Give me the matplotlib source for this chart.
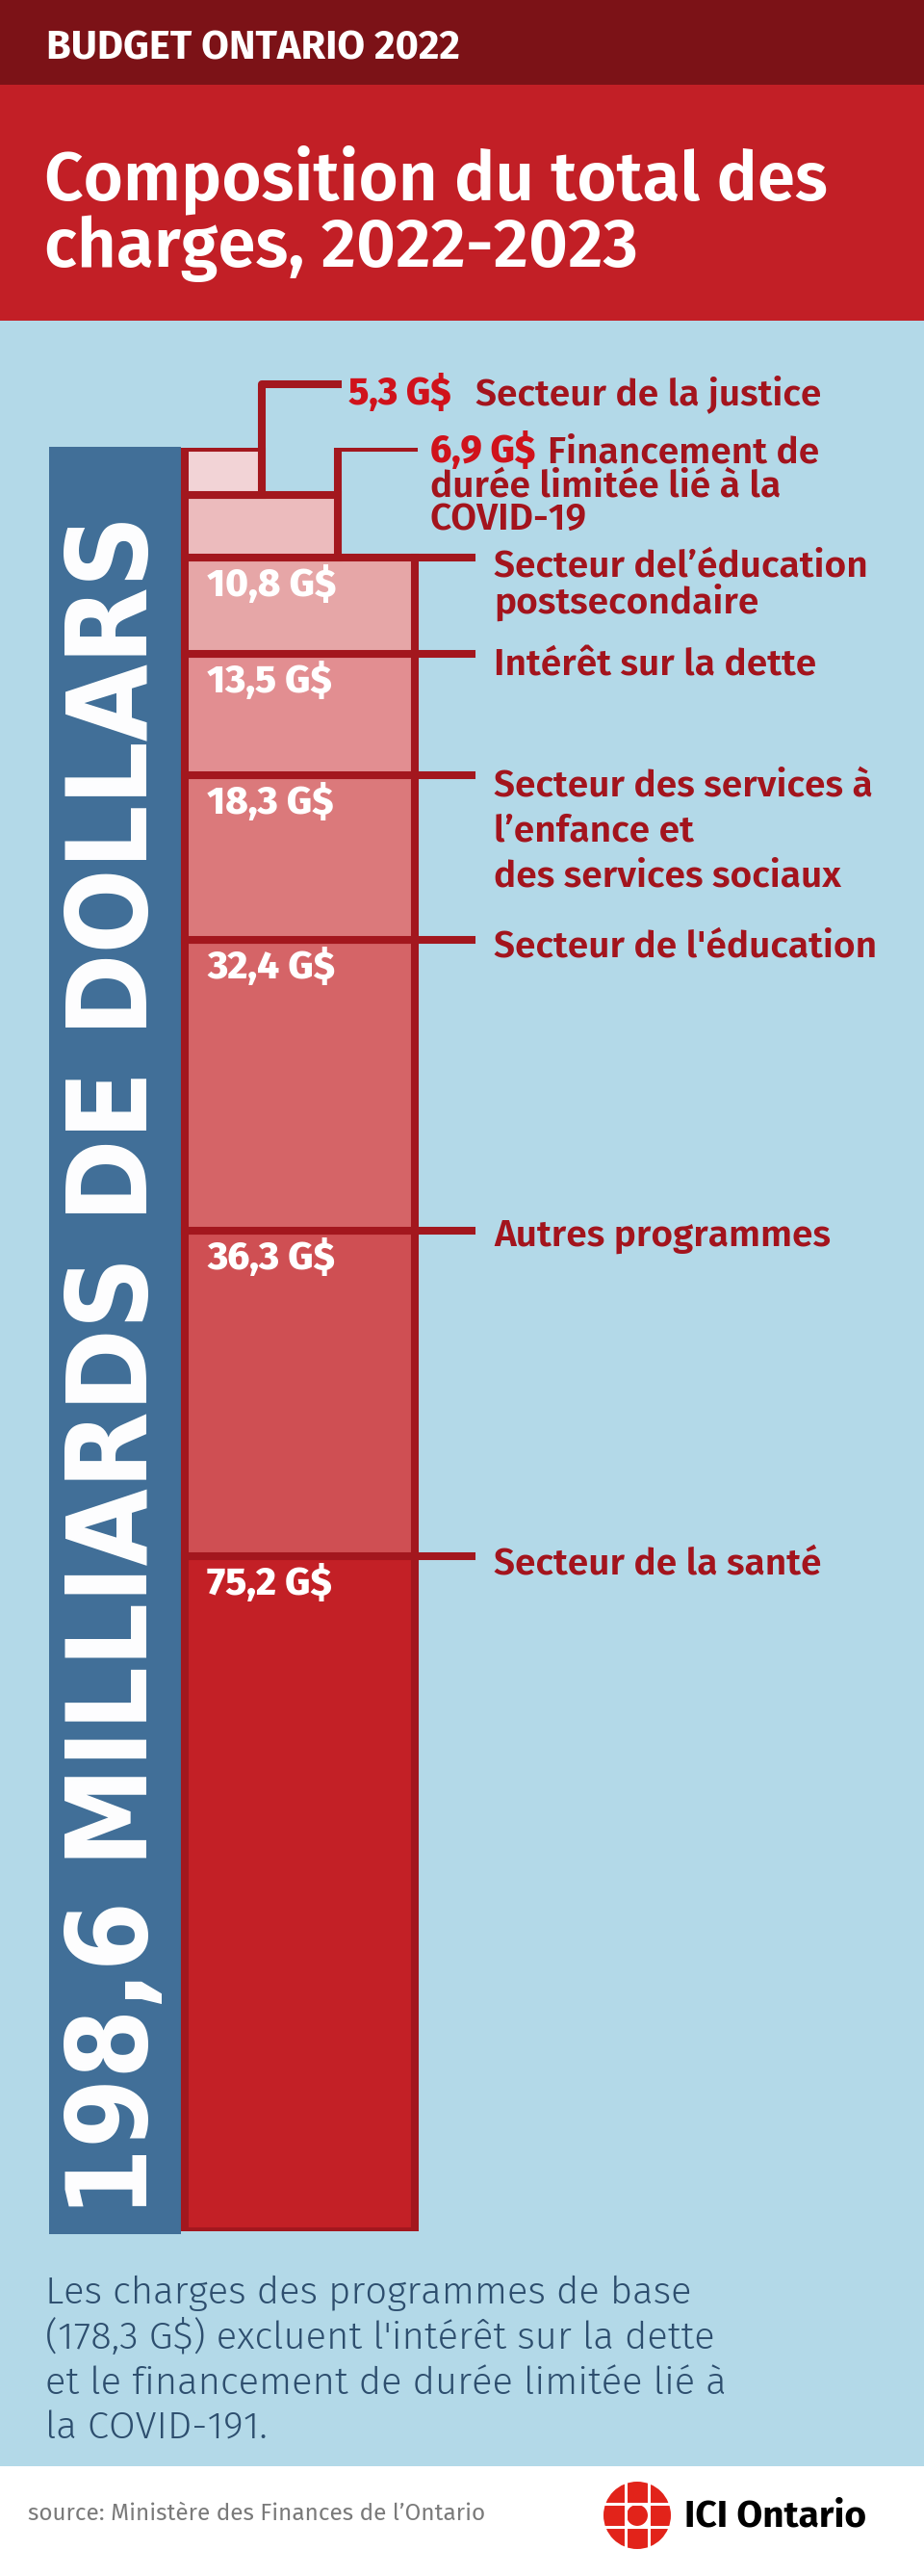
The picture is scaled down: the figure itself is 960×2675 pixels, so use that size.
import matplotlib
matplotlib.use("Agg")
import matplotlib.pyplot as plt
from matplotlib.patches import Rectangle, Circle

# data, bottom of the bar to the top
categories = ["Secteur de la santé", "Autres programmes", "Secteur de l'éducation",
              "Secteur des services à l'enfance et des services sociaux", "Intérêt sur la dette",
              "Secteur de l'éducation postsecondaire", "Financement de durée limitée lié à la COVID-19",
              "Secteur de la justice"]
values = [75.2, 36.3, 32.4, 18.3, 13.5, 10.8, 6.9, 5.3]
value_labels = ["75,2 G$", "36,3 G$", "32,4 G$", "18,3 G$", "13,5 G$", "10,8 G$", "6,9 G$", "5,3 G$"]
label_lines = [
    ["Secteur de la santé"],
    ["Autres programmes"],
    ["Secteur de l'éducation"],
    ["Secteur des services à", "l\u2019enfance et", "des services sociaux"],
    ["Intérêt sur la dette"],
    ["Secteur del\u2019éducation", "postsecondaire"],
    ["Financement de", "durée limitée lié à la", "COVID-19"],
    ["Secteur de la justice"],
]
total_label = "198,6 MILLIARDS DE DOLLARS"
header = "BUDGET ONTARIO 2022"
title_lines = ["Composition du total des", "charges, 2022-2023"]
note_lines = ["Les charges des programmes de base",
              "(178,3 G$) excluent l'intérêt sur la dette",
              "et le financement de durée limitée lié à",
              "la COVID-191."]
source = "source: Ministère des Finances de l\u2019Ontario"

fills = ["#c32026", "#cf4f53", "#d56467", "#db797b", "#e28e91", "#e6a6a7", "#ecbbbd", "#f2d3d6"]
OUTLINE = "#a3171e"
LABEL_RED = "#a3141d"
BRIGHT_RED = "#d0121b"
FIRA = ["Fira Sans", "DejaVu Sans"]

W, H = 960, 2675
fig = plt.figure(figsize=(W / 100, H / 100), dpi=100)

# page background in pixel units
bg = fig.add_axes([0, 0, 1, 1])
bg.set_xlim(0, W)
bg.set_ylim(H, 0)
bg.axis("off")
bg.add_patch(Rectangle((0, 0), W, 88, color="#7c1217", lw=0))
bg.add_patch(Rectangle((0, 88), W, 245, color="#c21f26", lw=0))
bg.add_patch(Rectangle((0, 333), W, 2561 - 333, color="#b3d9e8", lw=0))
bg.add_patch(Rectangle((51, 464), 137, 2320 - 464, color="#416f98", lw=0))

bg.text(48, 62, header, family=FIRA, weight="bold", fontsize=30, color="white", va="baseline")
for i, line in enumerate(title_lines):
    bg.text(46, 207 + i * 70, line, family=FIRA, weight=600, fontsize=51, color="white", va="baseline")

bg.text(153, 1418, total_label, family="DejaVu Sans", fontstretch="condensed", weight="bold",
        fontsize=83, color="white", rotation=90, rotation_mode="anchor", ha="center", va="baseline")

for i, line in enumerate(note_lines):
    bg.text(47, 2392 + i * 47, line, family=FIRA, weight=300, fontsize=28.8, color="#2d4e6e", va="baseline")

bg.text(29, 2617, source, family=FIRA, fontsize=17.5, color="#7a7a7a", va="baseline")

# ICI Ontario gem
gx, gy = 662, 2612
bg.add_patch(Circle((gx, gy), 35, color="#e2231a", lw=0))
for d in (-12, 12):
    bg.plot([gx + d, gx + d], [gy - 37, gy + 37], color="white", lw=2.2)
    bg.plot([gx - 37, gx + 37], [gy + d, gy + d], color="white", lw=2.2)
bg.add_patch(Rectangle((gx - 12, gy - 12), 24, 24, color="white", lw=0))
bg.add_patch(Circle((gx, gy), 11, color="#e2231a", lw=0))
bg.text(711, 2623, "ICI Ontario", family=FIRA, weight="bold", fontsize=28, color="black", va="baseline")

# stacked bar, y in G$
BAR_TOP_PX, BAR_BOT_PX = 465, 2317
total = sum(values)
px_per_unit = (BAR_BOT_PX - BAR_TOP_PX) / total
ax = fig.add_axes([0, (H - BAR_BOT_PX) / H, 1, (BAR_BOT_PX - BAR_TOP_PX) / H])
ax.set_xlim(0, W)
ax.set_ylim(0, total)
ax.axis("off")
ax.patch.set_alpha(0)

bottoms = [sum(values[:i]) for i in range(len(values))]
tops = [b + v for b, v in zip(bottoms, values)]
BAR_LEFT = 192
widths = [239, 239, 239, 239, 239, 239, 159, 80]
LW = 5.8

lkw = dict(color=OUTLINE, lw=LW, solid_capstyle="projecting", zorder=1)

# leaders
for i in range(6):
    ax.plot([BAR_LEFT + widths[i], 490], [tops[i], tops[i]], **lkw)
covid_x = BAR_LEFT + widths[6]
ax.plot([covid_x, covid_x, 430], [bottoms[6], total, total], **lkw)
just_x = BAR_LEFT + widths[7]
elbow = total + 66 / px_per_unit
ax.plot([just_x, just_x, covid_x], [bottoms[7], elbow, elbow], clip_on=False, **lkw)

ax.bar(BAR_LEFT, values, width=widths, bottom=bottoms, align="edge", color=fills,
       edgecolor=OUTLINE, linewidth=LW, zorder=2)

# values inside the segments
for i in range(6):
    ax.annotate(value_labels[i], (215, tops[i]), xytext=(0, -40), textcoords="offset pixels",
                family=FIRA, weight=800, fontsize=29, color="white", va="baseline", zorder=3)

# category labels
txt = dict(family=FIRA, weight=600, fontsize=28, color=LABEL_RED, va="baseline",
           annotation_clip=False)
base_off = [18, 16, 18, 21, 22, 20]
spacing = [0, 0, 0, 47, 0, 38]
for i in range(6):
    for j, line in enumerate(label_lines[i]):
        ax.annotate(line, (513, tops[i]), xytext=(0, -(base_off[i] + j * spacing[i])),
                    textcoords="offset pixels", **txt)

# covid label
ax.annotate(value_labels[6], (447, total), xytext=(0, -15), textcoords="offset pixels",
            **{**txt, "weight": 800, "color": BRIGHT_RED})
for j, line in enumerate(label_lines[6]):
    x = 569 if j == 0 else 447
    ax.annotate(line, (x, total), xytext=(0, -(15 + j * 35)), textcoords="offset pixels", **txt)

# justice label
ax.annotate(value_labels[7], (362, elbow), xytext=(0, -21), textcoords="offset pixels",
            **{**txt, "weight": 800, "color": BRIGHT_RED})
ax.annotate(label_lines[7][0], (494, elbow), xytext=(0, -21), textcoords="offset pixels", **txt)

fig.savefig("out.png", dpi=100)
